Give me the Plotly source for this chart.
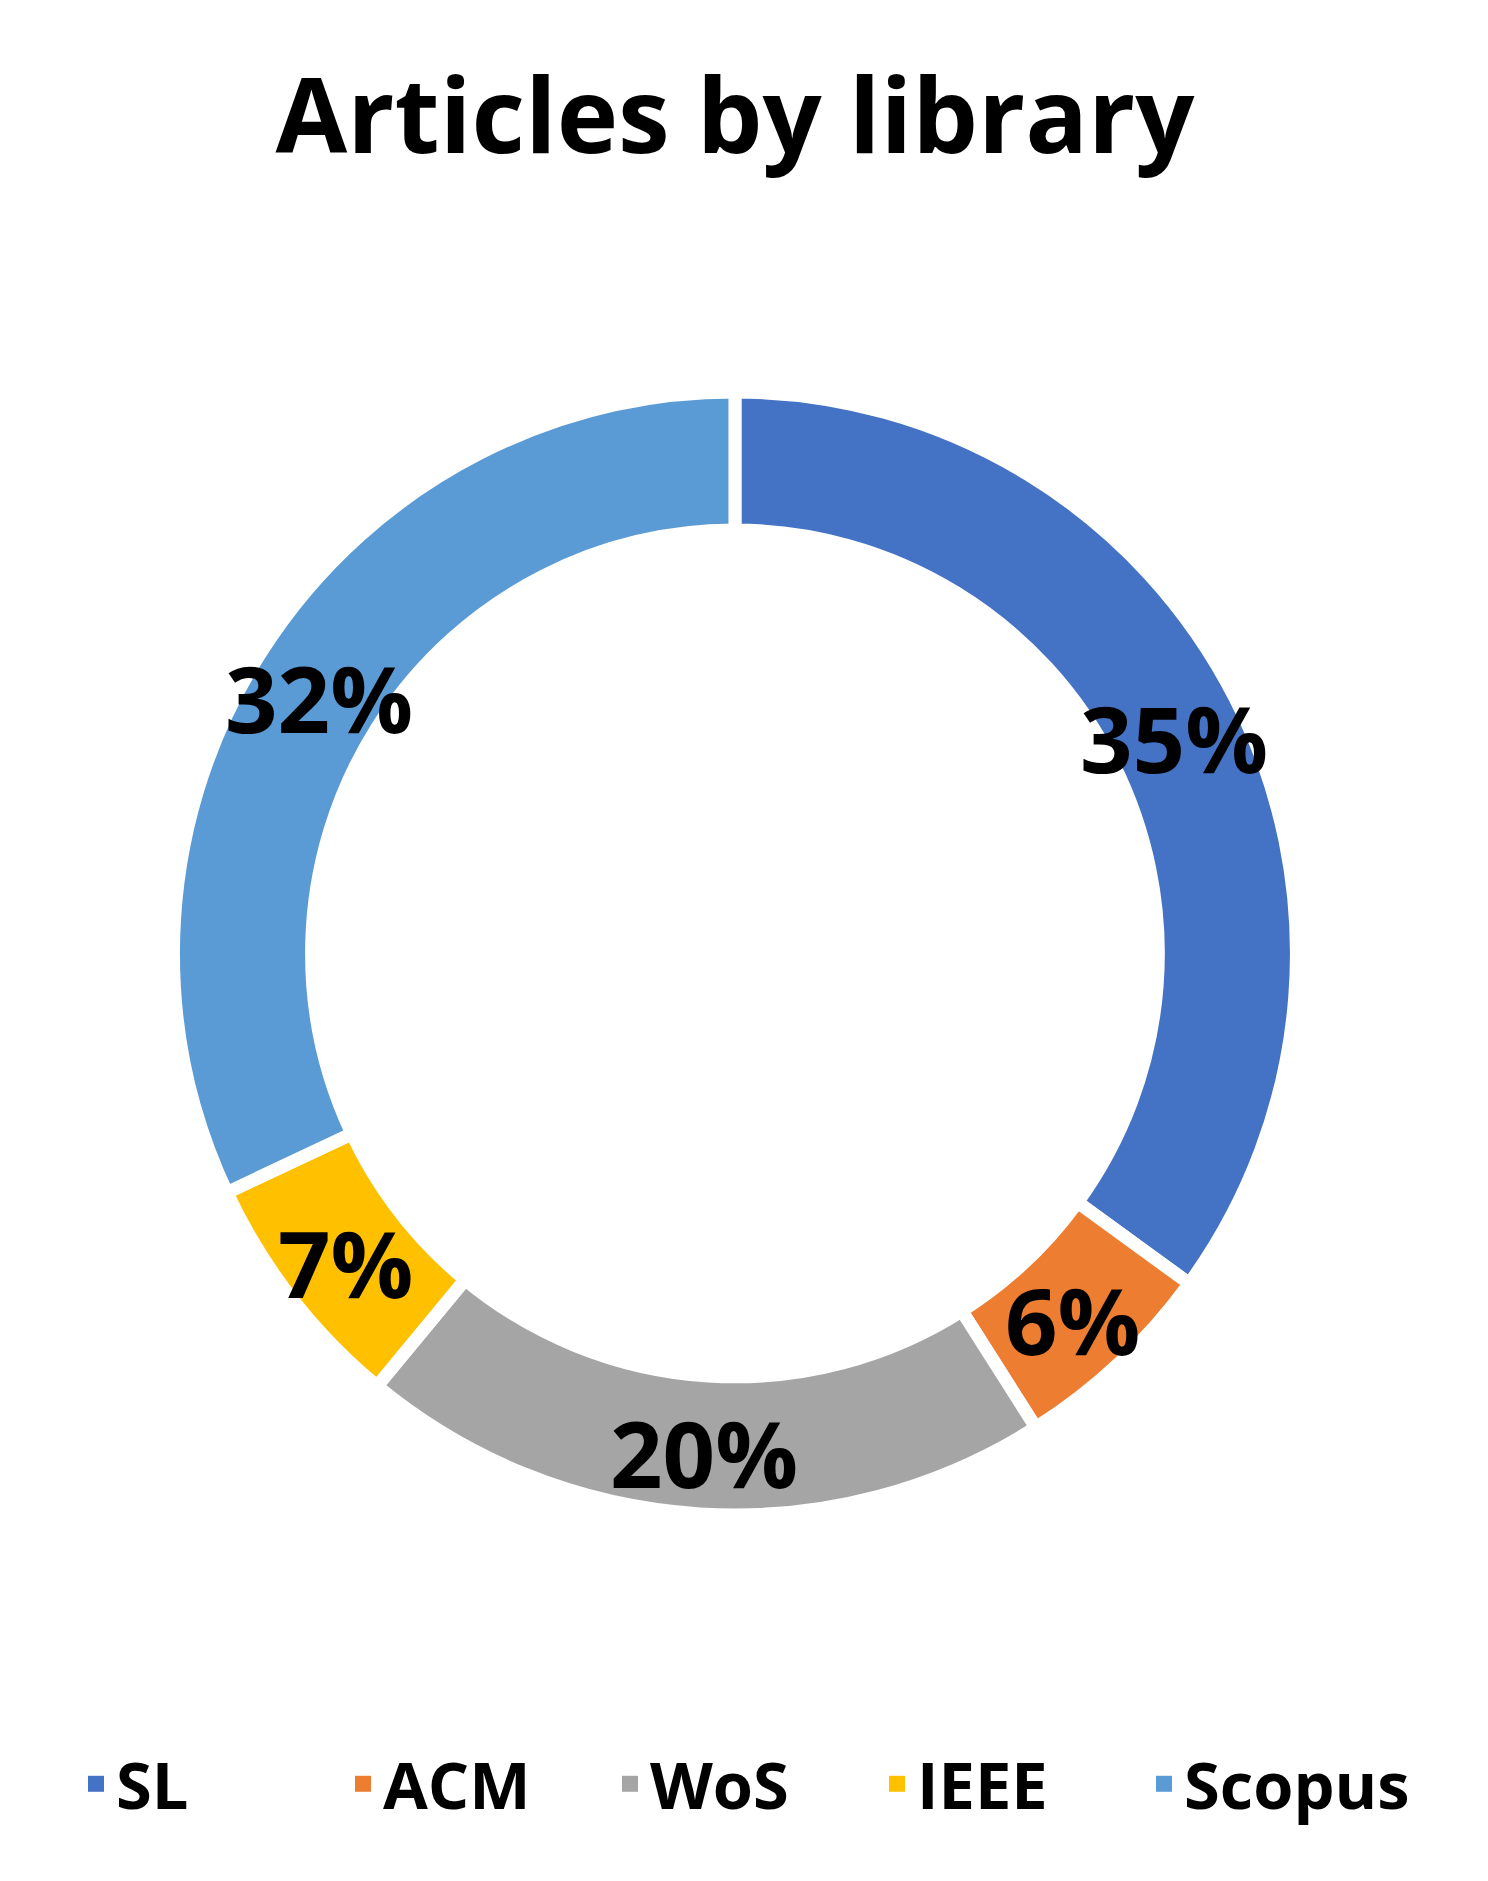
import math
import plotly.graph_objects as go

# Articles by library (percent of total)
libraries = ["SL", "ACM", "WoS", "IEEE", "Scopus"]
shares = [35, 6, 20, 7, 32]
colors = ["#4472C4", "#ED7D31", "#A5A5A5", "#FFC000", "#5B9BD5"]

FONT = "Open Sans"
W, H = 1488, 1881

# donut geometry (paper fractions)
dom_x = [0.1112, 0.8659]
dom_y = [0.1988, 0.7959]
hole = 0.754

fig = go.Figure()

fig.add_trace(go.Pie(
    labels=libraries,
    values=shares,
    hole=hole,
    sort=False,
    direction="clockwise",
    rotation=0,
    marker=dict(colors=colors, line=dict(color="white", width=13)),
    textinfo="none",
    showlegend=False,
    domain=dict(x=dom_x, y=dom_y),
))

# legend entries with square swatches
for name, col in zip(libraries, colors):
    fig.add_trace(go.Scatter(
        x=[None], y=[None], mode="markers", name=name,
        marker=dict(symbol="square", size=16, color=col),
    ))

# percent labels at the middle of each slice, on the ring
cx = (dom_x[0] + dom_x[1]) / 2 * W
cy = (dom_y[0] + dom_y[1]) / 2 * H
r_out = min((dom_x[1] - dom_x[0]) * W, (dom_y[1] - dom_y[0]) * H) / 2
r_mid = r_out * (1 + hole) / 2
total = sum(shares)
cum = 0
for v in shares:
    ang = 2 * math.pi * (cum + v / 2) / total
    cum += v
    fig.add_annotation(
        x=(cx + r_mid * math.sin(ang)) / W,
        y=(cy + r_mid * math.cos(ang)) / H - 0.004,
        xref="paper", yref="paper",
        text=f"{round(100 * v / total)}%",
        showarrow=False,
        xanchor="center", yanchor="middle",
        font=dict(family=FONT, size=92, color="black", weight="bold"),
    )

# Update layout for better appearance
fig.update_layout(
    width=W,
    height=H,
    margin=dict(l=0, r=0, t=0, b=0),
    paper_bgcolor="white",
    plot_bgcolor="white",
    xaxis=dict(visible=False),
    yaxis=dict(visible=False),
    title=dict(
        text="Articles by library",
        x=0.4886, xanchor="center",
        y=0.942, yanchor="middle",
        font=dict(family=FONT, size=104, color="black", weight="bold"),
    ),
    legend=dict(
        orientation="h",
        x=0.0457, xanchor="left",
        y=0.0558, yanchor="middle",
        font=dict(family=FONT, size=65, color="black", weight="bold"),
        entrywidth=222,
        traceorder="normal",
    ),
)

fig.write_html("out.html")
